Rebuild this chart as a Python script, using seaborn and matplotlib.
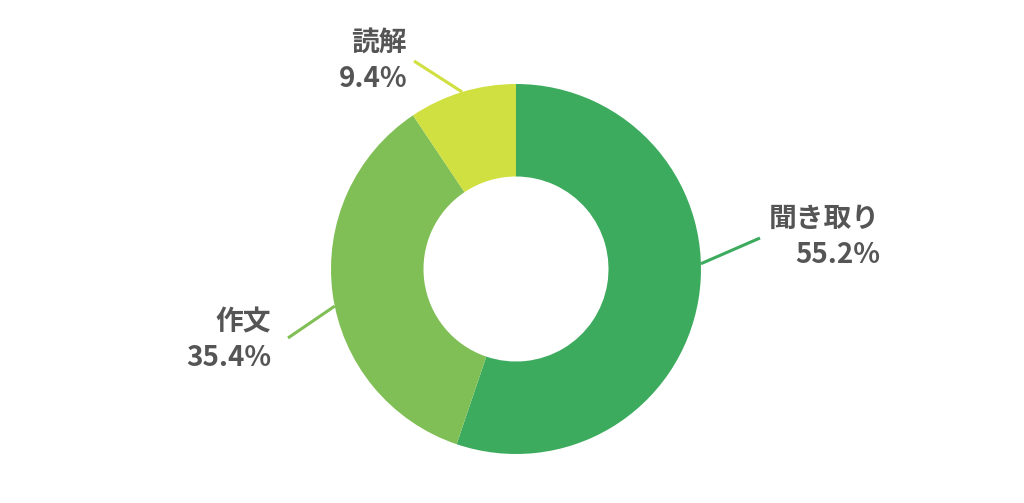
import numpy as np
import matplotlib
matplotlib.use("Agg")
import matplotlib.pyplot as plt
import seaborn as sns

# data
labels = ["聞き取り", "作文", "読解"]
shares = [55.2, 35.4, 9.4]
colors = ["#3dab5e", "#80bf55", "#d0e040"]

sns.set_theme(style="white")
plt.rcParams["font.family"] = ["Noto Sans CJK JP", "DejaVu Sans"]

W, H = 1024, 503
fig = plt.figure(figsize=(W / 100, H / 100), dpi=100)
ax = fig.add_axes([0, 0, 1, 1])
ax.set_xlim(0, W)
ax.set_ylim(0, H)
ax.set_aspect("equal")
ax.axis("off")

cx, cy, r = 516, H - 269, 185
wedges, _ = ax.pie(shares, colors=colors, startangle=90, counterclock=False,
                   radius=r, center=(cx, cy),
                   wedgeprops=dict(width=r * 0.5, linewidth=0))
ax.set_xlim(0, W)
ax.set_ylim(0, H)

# label layout: (connector angle shift, line end, text anchor)
layout = [
    (11, (760, H - 238), (880, H - 237)),
    (4, (288, H - 338), (271, H - 340)),
    (0, (414, H - 61), (407, H - 61)),
]

for w, lab, val, col, (shift, end, txt) in zip(wedges, labels, shares, colors, layout):
    mid = np.deg2rad((w.theta1 + w.theta2) / 2 + shift)
    start = (cx + r * np.cos(mid), cy + r * np.sin(mid))
    ax.plot([start[0], end[0]], [start[1], end[1]], color=col, lw=2.2,
            solid_capstyle="butt")
    ax.text(txt[0], txt[1], f"{lab}\n{val:.1f}%", ha="right", va="center",
            multialignment="right", fontsize=20, fontweight="bold",
            color="#555555", linespacing=1.35)

fig.savefig("out.png", dpi=100, facecolor="white")
